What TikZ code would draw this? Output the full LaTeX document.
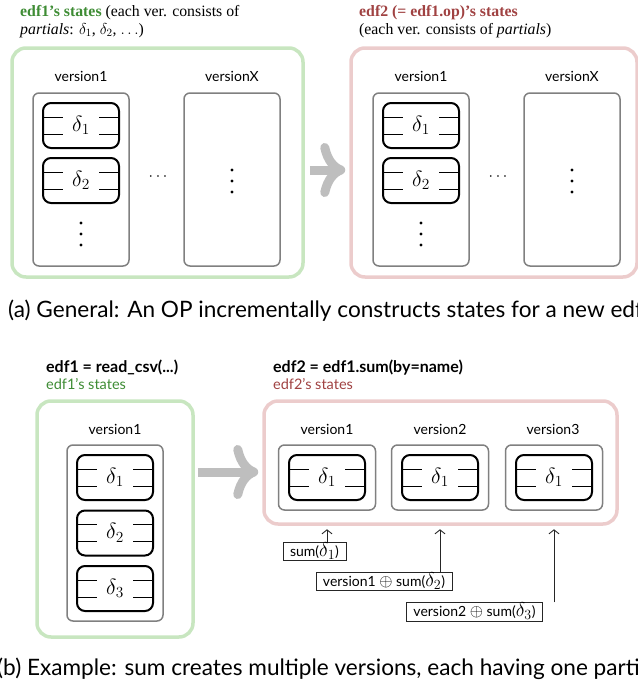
\RequirePackage{fix-cm}
\documentclass[tikz,border=0pt]{standalone}
\usepackage{fontspec}
\setmainfont{Liberation Serif}
\setsansfont{Lato}
\usetikzlibrary{arrows.meta, positioning}
\definecolor{statesgreen}{RGB}{200, 230, 192}
\definecolor{greentext}{RGB}{62, 140, 52}
\definecolor{statespink}{RGB}{236, 204, 204}
\definecolor{pinktext}{RGB}{160, 66, 66}
\definecolor{arrowgray}{RGB}{190, 190, 190}
\definecolor{boxgray}{RGB}{128, 128, 128}
\newcommand{\calcdelta}[1]{{\fontsize{20}{20}\selectfont$\delta_{#1}$}}
\newcommand{\calcplus}{{\fontsize{17}{17}\selectfont$\oplus$}}

\tikzset{
  greenbox/.style={draw=statesgreen, line width=3.5pt, rounded corners=14pt},
  pinkbox/.style={draw=statespink, line width=3.5pt, rounded corners=14pt},
  verbox/.style={draw=boxgray, line width=1.5pt, rounded corners=6pt},
  partbox/.style={draw=black, line width=2pt, rounded corners=8pt,
    minimum width=76pt, minimum height=45pt, inner sep=0pt,
    font=\fontsize{22}{22}\selectfont,
    path picture={
      \draw[line width=1pt] ([yshift=8.5pt]path picture bounding box.west) -- ++(20pt,0pt);
      \draw[line width=1pt] ([yshift=-8.5pt]path picture bounding box.west) -- ++(20pt,0pt);
      \draw[line width=1pt] ([yshift=8.5pt]path picture bounding box.east) -- ++(-20pt,0pt);
      \draw[line width=1pt] ([yshift=-8.5pt]path picture bounding box.east) -- ++(-20pt,0pt);
    }},
  verlabel/.style={font=\sffamily\fontsize{14}{16}\selectfont},
  headserif/.style={anchor=base west, inner sep=0pt, font=\fontsize{15.8}{18}\selectfont},
  headsans/.style={anchor=base west, inner sep=0pt, font=\sffamily\bfseries\fontsize{16}{18}\selectfont},
  statesans/.style={anchor=base west, inner sep=0pt, font=\sffamily\fontsize{14.5}{16}\selectfont},
  captext/.style={anchor=base west, inner sep=0pt, font=\sffamily\fontsize{22.6}{26}\selectfont},
  calcbox/.style={draw=black!85, line width=0.8pt, inner xsep=7pt, inner ysep=0pt,
    text height=14pt, text depth=4.5pt, font=\sffamily\fontsize{14}{16}\selectfont},
  bigarrow/.style={draw=arrowgray, line width=9pt,
    -{Computer Modern Rightarrow[length=25pt, width=54pt]}},
  smallarrow/.style={draw=black!85, line width=0.9pt,
    -{Straight Barb[length=4pt, width=10pt]}}
}

\begin{document}
\begin{tikzpicture}[x=1pt, y=-1pt]

  \useasboundingbox (0,0) rectangle (638,689);
  \clip (0,0) rectangle (638,689);

  % (a) 标题
  \node[headserif] (aLtitle) at (20,16) {\textcolor{greentext}{\textbf{edf1’s states}} (each ver. consists of};
  \node[headserif] (aLsub) at (20,34) {\textit{partials}: $\delta_1$, $\delta_2$, $.\,.\,.$)};
  \node[headserif] (aRtitle) at (359,16) {\textcolor{pinktext}{\textbf{edf2 (= edf1.op)’s states}}};
  \node[headserif] (aRsub) at (359,34) {(each ver. consists of \textit{partials})};

  % (a) edf1 的状态
  \node[greenbox, minimum width=291pt, minimum height=229pt] (aL) at (157.5,162.5) {};
  \node[verlabel] (aLv1lab) at (81,76) {version1};
  \node[verlabel] (aLvXlab) at (232,76) {versionX};
  \node[verbox, minimum width=96pt, minimum height=173pt] (aLv1) at (81,179.5) {};
  \node[verbox, minimum width=96pt, minimum height=173pt] (aLvX) at (232,179.5) {};
  \node[partbox] (aLd1) at (81,125.5) {$\delta_1$};
  \node[partbox] (aLd2) at (81,180.5) {$\delta_2$};
  \fill (81,223) circle (1.6pt) (81,234) circle (1.6pt) (81,245) circle (1.6pt);
  \node[font=\fontsize{16}{16}\selectfont] (aLdots) at (158,177) {$\cdots$};
  \fill (232,170) circle (1.6pt) (232,181) circle (1.6pt) (232,192) circle (1.6pt);

  % (a) edf2 的状态
  \node[pinkbox, minimum width=286pt, minimum height=229pt] (aR) at (494,162.5) {};
  \node[verlabel] (aRv1lab) at (421,76) {version1};
  \node[verlabel] (aRvXlab) at (572,76) {versionX};
  \node[verbox, minimum width=96pt, minimum height=173pt] (aRv1) at (421,179.5) {};
  \node[verbox, minimum width=96pt, minimum height=173pt] (aRvX) at (572,179.5) {};
  \node[partbox] (aRd1) at (421,125.5) {$\delta_1$};
  \node[partbox] (aRd2) at (421,180.5) {$\delta_2$};
  \fill (421,223) circle (1.6pt) (421,234) circle (1.6pt) (421,245) circle (1.6pt);
  \node[font=\fontsize{16}{16}\selectfont] (aRdots) at (498,177) {$\cdots$};
  \fill (572,170) circle (1.6pt) (572,181) circle (1.6pt) (572,192) circle (1.6pt);

  % (a) 操作箭头
  \draw[bigarrow, shorten <=5pt, shorten >=4pt] (aL.east |- 0,170) -- (aR.west |- 0,170);

  % (a) 图注
  \node[captext] (capa) at (8,317) {(a) General: An OP incrementally constructs states for a new edf.};

  % (b) 标题
  \node[headsans] (bLtitle) at (46,372) {edf1 = read\_csv(...)};
  \node[statesans, text=greentext] (bLstates) at (46,389) {edf1’s states};
  \node[headsans] (bRtitle) at (273,372) {edf2 = edf1.sum(by=name)};
  \node[statesans, text=pinktext] (bRstates) at (273,389) {edf2’s states};

  % (b) edf1 的状态
  \node[greenbox, minimum width=156pt, minimum height=236pt] (bL) at (115,519) {};
  \node[verlabel] (bLv1lab) at (115,429) {version1};
  \node[verbox, minimum width=96pt, minimum height=176pt] (bLv1) at (115,533) {};
  \node[partbox] (bLd1) at (115,477.5) {$\delta_1$};
  \node[partbox] (bLd2) at (115,533) {$\delta_2$};
  \node[partbox] (bLd3) at (115,588.5) {$\delta_3$};

  % (b) edf2 的状态
  \node[pinkbox, minimum width=353pt, minimum height=123pt] (bR) at (440.5,462.5) {};
  \node[verlabel] (bRv1lab) at (327,429) {version1};
  \node[verlabel] (bRv2lab) at (440,429) {version2};
  \node[verlabel] (bRv3lab) at (553,429) {version3};
  \node[verbox, minimum width=97pt, minimum height=65pt] (bRv1) at (327,477.5) {};
  \node[verbox, minimum width=97pt, minimum height=65pt] (bRv2) at (440,477.5) {};
  \node[verbox, minimum width=97pt, minimum height=65pt] (bRv3) at (554,477.5) {};
  \node[partbox] (bRd1) at (327,477.5) {$\delta_1$};
  \node[partbox] (bRd2) at (440,477.5) {$\delta_1$};
  \node[partbox] (bRd3) at (554,477.5) {$\delta_1$};

  % (b) 操作箭头
  \draw[bigarrow, shorten <=3pt, shorten >=4pt] (bL.east |- 0,472) -- (bR.west |- 0,472);

  % (b) 每个版本的计算
  \node[calcbox] (calc1) at (314.5,551.5) {sum(\calcdelta{1})};
  \node[calcbox] (calc2) at (384,581.5) {version1 \calcplus{} sum(\calcdelta{2})};
  \node[calcbox] (calc3) at (474.5,612) {version2 \calcplus{} sum(\calcdelta{3})};
  \draw[smallarrow, shorten >=3.5pt] (calc1.north -| bRv1.south) -- (bR.south -| bRv1.south);
  \draw[smallarrow, shorten >=3.5pt] (calc2.north -| bRv2.south) -- (bR.south -| bRv2.south);
  \draw[smallarrow, shorten >=3.5pt] (calc3.north -| bRd3.south) -- (bR.south -| bRd3.south);

  % (b) 图注
  \node[captext] (capb) at (-3,675) {(b) Example: sum creates multiple versions, each having one partial.};

\end{tikzpicture}
\end{document}
